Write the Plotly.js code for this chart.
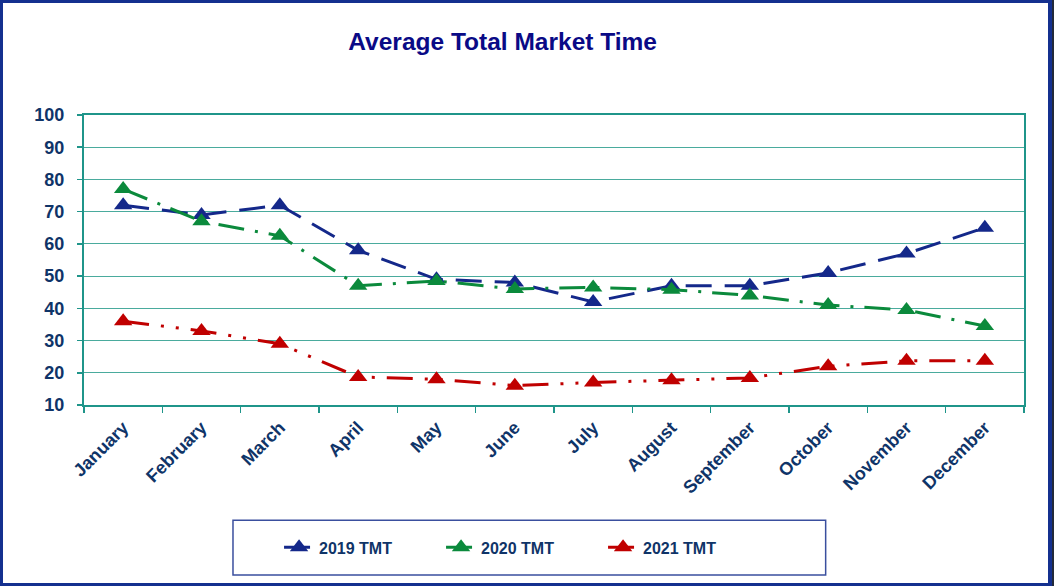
<!DOCTYPE html>
<html>
<head>
<meta charset="utf-8">
<script src="https://cdn.plot.ly/plotly-3.0.1.min.js"></script>
<style>
  html, body { margin: 0; padding: 0; background: #fff; }
  #wrap { position: relative; width: 1056px; height: 586px; }
  #chart { position: absolute; left: 0; top: 0; width: 1056px; height: 586px; }
  #frame { position: absolute; left: 0; top: 0; width: 1052px; height: 586px; box-sizing: border-box;
           border: 3px solid #14308f; border-right-width: 4px; box-shadow: 2px 0 0 #222a3a; pointer-events: none; }
</style>
</head>
<body>
<div id="wrap">
  <div id="chart"></div>
  <div id="frame"></div>
</div>
<script>
const months = ["January","February","March","April","May","June","July","August","September","October","November","December"];
const tmt2019 = [72, 69, 72, 58, 49, 48, 42, 47, 47, 51, 57, 65];
const tmt2020 = [77, 67, 62.5, 47, 48.5, 46, 46.5, 45.8, 44, 41, 39.5, 34.5];
const tmt2021 = [36, 33, 29, 18.7, 18, 16, 17, 17.7, 18.4, 22, 23.7, 23.7];
const yTicks = [10, 20, 30, 40, 50, 60, 70, 80, 90, 100];

const textColor = "#0f3468";
const teal = "#1f958a";
const fam = "Liberation Sans, Arial, sans-serif";

function series(name, y, color, dash) {
  return {
    type: "scatter", mode: "lines+markers", name: name,
    x: months, y: y,
    line: { color: color, width: 3, dash: dash },
    marker: { symbol: "triangle-up", size: 16, color: color }
  };
}

const data = [
  series("2019 TMT", tmt2019, "#14288a", "26px,13px"),
  series("2020 TMT", tmt2020, "#0b8a3c", "26px,11px,3px,11px"),
  series("2021 TMT", tmt2021, "#c00000", "26px,12px,3px,12px,3px,12px")
];

const layout = {
  width: 1056, height: 586,
  margin: { l: 84, r: 32, t: 115, b: 181 },
  paper_bgcolor: "rgba(0,0,0,0)",
  plot_bgcolor: "#ffffff",
  font: { family: fam, color: textColor },
  title: {
    text: "<b>Average Total Market Time</b>",
    font: { size: 24.5, color: "#0a0a86", family: fam },
    x: 0.476, xanchor: "center", y: 0.93, yanchor: "middle"
  },
  xaxis: {
    type: "category",
    range: [-0.5, 11.5],
    tickangle: -45,
    tickson: "boundaries",
    ticks: "outside", ticklen: 6, tickcolor: teal, tickwidth: 1.5,
    showline: true, linecolor: teal, linewidth: 2, mirror: true,
    showgrid: false, zeroline: false,
    ticklabelstandoff: 3,
    tickfont: { size: 18, color: textColor, family: fam, weight: "bold" }
  },
  yaxis: {
    range: [10, 100],
    tickvals: yTicks,
    ticktext: yTicks.map(String),
    ticks: "outside", ticklen: 5, tickcolor: teal, tickwidth: 1.5,
    showline: true, linecolor: teal, linewidth: 2, mirror: true,
    showgrid: true, gridcolor: "#4aab9d", gridwidth: 1.2,
    zeroline: false,
    ticklabelstandoff: 9,
    tickfont: { size: 18, color: textColor, family: fam, weight: "bold" }
  },
  legend: {
    orientation: "h",
    x: 0.2075, xanchor: "left",
    y: -0.491, yanchor: "middle",
    bgcolor: "rgba(0,0,0,0)", borderwidth: 0,
    entrywidth: 117,
    font: { size: 16, color: textColor, family: fam, weight: "bold" }
  },
  shapes: [{
    type: "rect", xref: "paper", yref: "paper",
    x0: 0.1585, x1: 0.789, y0: -0.586, y1: -0.397,
    line: { color: "#3a4f9e", width: 1.5 }, fillcolor: "rgba(0,0,0,0)"
  }],
  showlegend: true
};

Plotly.newPlot("chart", data, layout, { displayModeBar: false, staticPlot: true });
</script>
</body>
</html>
